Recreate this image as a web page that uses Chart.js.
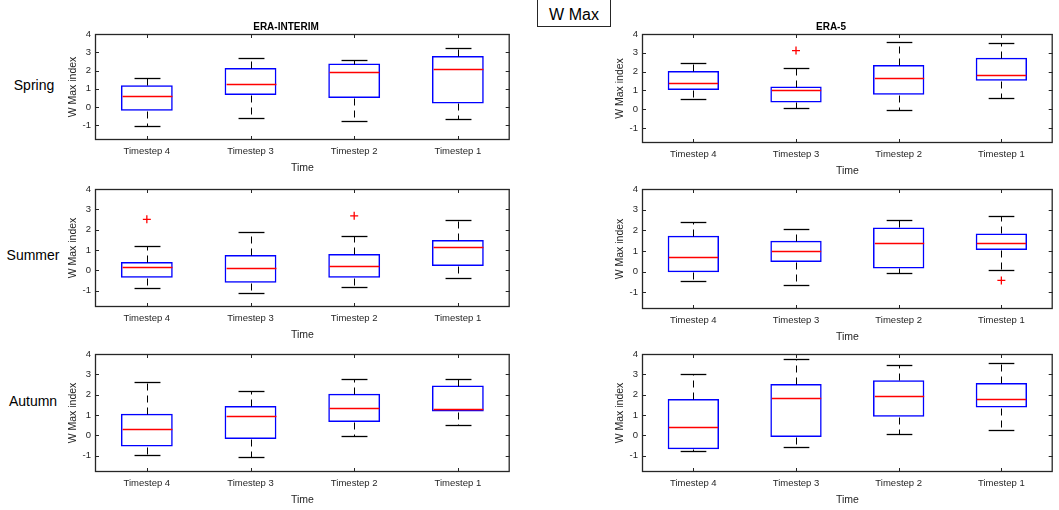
<!DOCTYPE html>
<html>
<head>
<meta charset="utf-8">
<script src="https://cdn.jsdelivr.net/npm/chart.js@4"></script>
<style>
    body { margin: 0; background: #fff; width: 1059px; height: 510px; position: relative; overflow: hidden; font-family: "Liberation Sans", Arial, sans-serif; }
    canvas { position: absolute; }
    .season { position: absolute; font-size: 14px; color: #000; transform: translate(-50%, -50%); white-space: nowrap; }
    #supTitle { position: absolute; left: 537px; top: -2px; width: 74px; height: 29px; border: 1px solid #262626; box-sizing: border-box; font-size: 16px; text-align: center; line-height: 31px; color: #000; }
</style>
</head>
<body>
<div id="supTitle">W Max</div>
<div class="season" style="left:34px;top:85px">Spring</div>
<div class="season" style="left:33px;top:255px">Summer</div>
<div class="season" style="left:33px;top:401px">Autumn</div>
<canvas id="c1"></canvas>
<canvas id="c2"></canvas>
<canvas id="c3"></canvas>
<canvas id="c4"></canvas>
<canvas id="c5"></canvas>
<canvas id="c6"></canvas>
<script>
const categories = [ 'Timestep 4', 'Timestep 3', 'Timestep 2', 'Timestep 1' ];
const yTicks = [ -1, 0, 1, 2, 3, 4 ];

// each entry: [lower whisker, q1, median, q3, upper whisker]
const springInterim = [ [ -1.05, -0.2, 0.59, 1.2, 1.57 ], [ -0.61, 0.66, 1.29, 2.14, 2.71 ], [ -0.77, 0.5, 1.92, 2.38, 2.6 ], [ -0.63, 0.2, 2.1, 2.8, 3.24 ] ];
const springEra5 = [ [ 0.56, 1.02, 1.4, 2.03, 2.47 ], [ 0.05, 0.36, 1.02, 1.2, 2.19 ], [ -0.07, 0.77, 1.67, 2.35, 3.55 ], [ 0.61, 1.51, 1.81, 2.74, 3.51 ] ];
const summerInterim = [ [ -0.89, -0.36, 0.17, 0.41, 1.2 ], [ -1.12, -0.61, 0.13, 0.76, 1.87 ], [ -0.83, -0.36, 0.21, 0.81, 1.69 ], [ -0.35, 0.21, 1.16, 1.49, 2.48 ] ];
const summerEra5 = [ [ -0.47, -0.02, 0.73, 1.74, 2.4 ], [ -0.65, 0.47, 0.99, 1.5, 2.07 ], [ -0.08, 0.16, 1.41, 2.14, 2.51 ], [ 0.08, 1.05, 1.41, 1.85, 2.7 ] ];
const autumnInterim = [ [ -0.96, -0.55, 0.31, 1.06, 2.63 ], [ -1.06, -0.18, 0.93, 1.44, 2.2 ], [ -0.02, 0.66, 1.37, 2.05, 2.78 ], [ 0.5, 1.17, 1.32, 2.45, 2.78 ] ];
const autumnEra5 = [ [ -0.76, -0.68, 0.41, 1.79, 3.0 ], [ -0.56, -0.08, 1.83, 2.53, 3.74 ], [ 0.08, 0.91, 1.95, 2.71, 3.44 ], [ 0.25, 1.37, 1.77, 2.58, 3.57 ] ];

// outliers (red +)
const springInterimOut = [ null, null, null, null ];
const springEra5Out = [ null, 3.12, null, null ];
const summerInterimOut = [ 2.51, null, 2.68, null ];
const summerEra5Out = [ null, null, null, -0.42 ];
const autumnInterimOut = [ null, null, null, null ];
const autumnEra5Out = [ null, null, null, null ];

const axisColor = '#262626';

function line( ctx, x1, y1, x2, y2 )
{
    ctx.beginPath();
    ctx.moveTo( x1, y1 );
    ctx.lineTo( x2, y2 );
    ctx.stroke();
}

// whiskers, caps, medians, plus the matlab style frame with inward ticks
const boxPlot = {
    id: 'boxPlot',
    afterDatasetsDraw( chart, args, opts )
    {
        const { ctx, chartArea: a, scales: { x, y } } = chart;
        const meta = chart.getDatasetMeta( 0 );
        ctx.save();
        opts.stats.forEach( ( s, i ) =>
        {
            const cx = Math.round( x.getPixelForValue( i ) ) + 0.5;
            const half = meta.data[ i ].width / 2;
            const py = v => Math.round( y.getPixelForValue( v ) ) + 0.5;
            ctx.strokeStyle = '#000';
            ctx.lineWidth = 1;
            ctx.setLineDash( [ 7, 5 ] );
            line( ctx, cx, py( s[ 3 ] ), cx, py( s[ 4 ] ) );
            line( ctx, cx, py( s[ 1 ] ), cx, py( s[ 0 ] ) );
            ctx.setLineDash( [] );
            ctx.lineWidth = 1.3;
            line( ctx, cx - half / 2, py( s[ 4 ] ), cx + half / 2, py( s[ 4 ] ) );
            line( ctx, cx - half / 2, py( s[ 0 ] ), cx + half / 2, py( s[ 0 ] ) );
            ctx.strokeStyle = '#ff0000';
            ctx.lineWidth = 1.5;
            line( ctx, cx - half + 1, py( s[ 2 ] ), cx + half - 1, py( s[ 2 ] ) );
        } );

        ctx.strokeStyle = axisColor;
        ctx.lineWidth = 1.3;
        ctx.strokeRect( a.left + 0.5, a.top + 0.5, a.width - 1, a.height - 1 );
        ctx.lineWidth = 1;
        yTicks.forEach( t =>
        {
            const py = Math.round( y.getPixelForValue( t ) ) + 0.5;
            line( ctx, a.left, py, a.left + 4, py );
            line( ctx, a.right - 4, py, a.right, py );
        } );
        categories.forEach( ( c, i ) =>
        {
            const px = Math.round( x.getPixelForValue( i ) ) + 0.5;
            line( ctx, px, a.bottom, px, a.bottom - 4 );
            line( ctx, px, a.top, px, a.top + 4 );
        } );
        ctx.restore();
    }
};

function makePanel( id, title, stats, outliers, pos )
{
    const canvas = document.getElementById( id );
    const topPad = title ? 17 : 10;
    const w = pos.right - pos.left + 35 + 3;
    const h = pos.bottom - pos.top + topPad + 36;
    canvas.width = w;
    canvas.height = h;
    canvas.style.left = ( pos.left - 35 ) + 'px';
    canvas.style.top = ( pos.top - topPad ) + 'px';

    new Chart( canvas, {
        type: 'bar',
        data: {
            labels: categories,
            datasets: [ {
                data: stats.map( s => [ s[ 1 ], s[ 3 ] ] ),
                backgroundColor: 'rgba(0, 0, 0, 0)',
                borderColor: '#0000ff',
                borderWidth: 1.5,
                borderSkipped: false,
                barPercentage: 0.5,
                categoryPercentage: 1
            }, {
                type: 'line',
                data: outliers,
                showLine: false,
                pointStyle: 'cross',
                pointRadius: 4,
                borderColor: '#ff0000',
                backgroundColor: '#ff0000',
                pointBorderWidth: 1.3
            } ]
        },
        options: {
            responsive: false,
            animation: false,
            events: [],
            layout: { padding: { top: title ? 0 : 10, right: 3, left: 0, bottom: 0 } },
            plugins: {
                legend: { display: false },
                tooltip: { enabled: false },
                title: {
                    display: !!title,
                    text: title,
                    color: '#000',
                    font: { family: 'Liberation Sans', size: 10, weight: 'bold' },
                    padding: { top: 4, bottom: 1 }
                },
                boxPlot: { stats: stats }
            },
            scales: {
                x: {
                    grid: { display: false, drawTicks: false },
                    border: { display: false },
                    ticks: { color: axisColor, font: { family: 'Liberation Sans', size: 9.5 }, padding: 6, maxRotation: 0, autoSkip: false },
                    title: { display: true, text: 'Time', color: axisColor, font: { family: 'Liberation Sans', size: 10.5 }, padding: { top: 0, bottom: 2 } },
                    afterFit: s => { s.height = 36; s.paddingLeft = 0; s.paddingRight = 0; }
                },
                y: {
                    min: -1.8,
                    max: 4,
                    grid: { display: false, drawTicks: false },
                    border: { display: false },
                    ticks: { stepSize: 1, color: axisColor, font: { family: 'Liberation Sans', size: 9.5 }, padding: 4 },
                    afterBuildTicks: s => { s.ticks = yTicks.map( v => ( { value: v } ) ); },
                    title: { display: true, text: 'W Max index', color: axisColor, font: { family: 'Liberation Sans', size: 10.5 }, padding: { top: 7, bottom: 0 } },
                    afterFit: s => { s.width = 35; s.paddingTop = 0; s.paddingBottom = 0; }
                }
            }
        },
        plugins: [ boxPlot ]
    } );
}

document.addEventListener( 'DOMContentLoaded', function ()
{
    makePanel( 'c1', 'ERA-INTERIM', springInterim, springInterimOut, { left: 95, right: 512, top: 34, bottom: 140 } );
    makePanel( 'c2', 'ERA-5', springEra5, springEra5Out, { left: 642, right: 1055, top: 34, bottom: 143 } );
    makePanel( 'c3', '', summerInterim, summerInterimOut, { left: 95, right: 512, top: 189, bottom: 307 } );
    makePanel( 'c4', '', summerEra5, summerEra5Out, { left: 642, right: 1055, top: 189, bottom: 309 } );
    makePanel( 'c5', '', autumnInterim, autumnInterimOut, { left: 95, right: 512, top: 354, bottom: 472 } );
    makePanel( 'c6', '', autumnEra5, autumnEra5Out, { left: 642, right: 1055, top: 354, bottom: 472 } );
} );
</script>
</body>
</html>
